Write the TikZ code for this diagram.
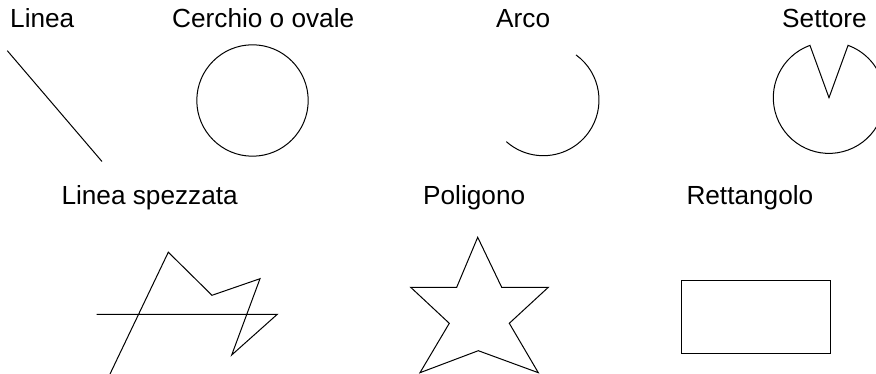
\documentclass[tikz,border=0pt]{standalone}
\usepackage{fontspec}
\setmainfont{Liberation Sans}
\begin{document}
\begin{tikzpicture}[x=1pt,y=-1pt,
  fig/.style={draw=black, line width=1pt, line join=miter},
  lbl/.style={anchor=base west, inner sep=0pt, font=\fontsize{26.2}{30}\selectfont}]
\useasboundingbox (0,0) rectangle (876,374);
\clip (0,0) rectangle (876,374);
\fill[white] (0,0) rectangle (876,374);
% labels
\node[lbl] (l1) at (10,27.5) {Linea};
\node[lbl] (l2) at (172,27.5) {Cerchio o ovale};
\node[lbl] (l3) at (496,27.5) {Arco};
\node[lbl] (l4) at (782,27.5) {Settore};
\node[lbl] (l5) at (61.3,205) {Linea spezzata};
\node[lbl] (l6) at (423,205) {Poligono};
\node[lbl] (l7) at (686.3,205) {Rettangolo};
% line
\draw[fig] (7.3,50.7) -- (102,161.5);
% circle
\draw[fig] (252.5,100.5) circle[radius=55.7];
% arc
\draw[fig] (543.3,100) ++(-54:55.7) arc[start angle=-54, end angle=131.6, radius=55.7];
% sector
\draw[fig] (829,97.7) -- ++(-110:55.7) arc[start angle=-110, end angle=-430, radius=55.7] -- cycle;
% polyline
\draw[fig] (110,374) -- (168.3,252.2) -- (212,295.3) -- (260,278.7) -- (231.7,355) -- (277.3,314.3) -- (96.7,314.3);
% star
\draw[fig] (477.7,237.3) -- (501.7,287.3) -- (548.3,287.3) -- (509.3,323.3) -- (538.3,372.7)
  -- (478.3,350.7) -- (420,372.7) -- (449.3,323.3) -- (410.7,287.3) -- (456.7,287.3) -- cycle;
% rectangle
\draw[fig] (681,281) rectangle (830.7,353.3);
\end{tikzpicture}
\end{document}
